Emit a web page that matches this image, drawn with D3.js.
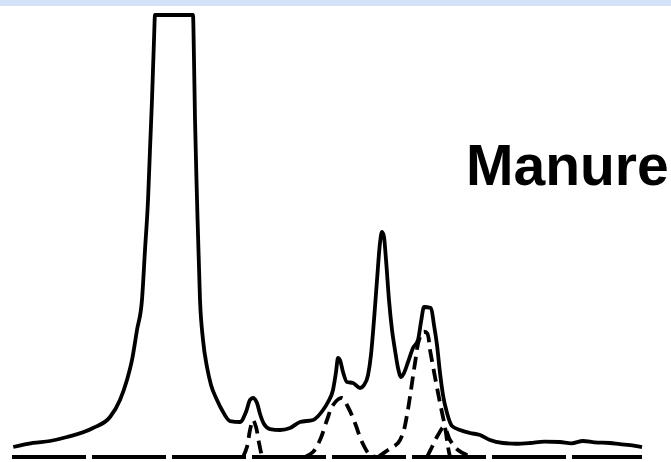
<!DOCTYPE html>
<html>
<head>
<meta charset="utf-8">
<script src="https://cdn.jsdelivr.net/npm/d3@7"></script>
<style>
  html, body { margin: 0; padding: 0; background: #fff; }
  svg { display: block; }
</style>
</head>
<body>
<div id="chart"></div>
<script>
// Spectrum (arbitrary position units 0-100, intensity units 0-100; top of main peak is clipped)
const spectrumPos = [0.2,3.33,6.03,8.73,12.86,15.56,17.14,18.25,19.05,19.84,20.63,21.11,21.59,21.90,22.22,22.54,22.70,
  28.73,28.89,29.05,29.37,29.84,30.32,30.95,31.59,32.54,33.33,34.60,36.19,37.14,37.78,38.25,38.89,39.37,40.00,40.95,42.54,44.13,
  45.71,47.78,49.37,50.16,50.95,51.43,51.75,52.06,52.54,53.17,54.13,55.24,55.87,56.51,56.98,57.46,57.94,58.41,58.73,59.05,59.37,
  59.84,60.32,60.79,61.27,61.75,62.22,62.86,63.65,64.44,64.92,65.40,66.51,66.98,67.46,67.94,68.41,69.05,69.84,71.11,72.70,74.29,
  75.87,77.94,80.0,82.22,84.5,86.98,88.8,90.63,92.5,94.92,96.5,98.10,100];
const spectrumInt = [2.26,3.17,3.62,4.52,6.56,9.05,12.90,17.42,21.95,28.73,35.52,46.83,58.14,69.46,80.77,94.34,100,
  100,89.82,76.24,58.14,35.52,26.47,20.36,16.29,12.90,10.63,8.14,7.92,10.18,12.90,13.35,12.22,9.73,7.47,6.33,6.11,6.56,
  7.92,8.37,10.63,12.44,15.16,19.23,22.40,21.95,19.23,16.97,16.74,15.61,16.29,18.55,23.08,31.00,40.05,48.42,50.90,49.77,44.57,
  35.52,28.73,24.21,20.14,18.10,19.00,21.49,24.66,26.47,30.54,33.94,33.71,29.86,25.34,19.00,14.03,9.95,7.01,6.11,5.43,4.98,
  3.85,3.17,3.0,3.17,3.5,3.39,3.1,3.62,3.3,3.17,2.9,2.71,2.26];

// Deconvolution components (dashed)
const comp1Pos = [36.67,37.30,37.78,38.25,38.73,39.21,39.68];
const comp1Int = [0,2.26,6.11,8.37,6.79,3.17,0];
const comp2Pos = [46.51,47.78,48.89,50.00,50.95,52.38,53.33,54.44,55.56,56.83,57.78];
const comp2Int = [0,1.13,3.85,8.37,11.76,13.35,11.31,7.69,3.39,0.45,0];
const comp3Pos = [58.10,59.68,61.27,62.06,62.70,63.33,63.97,64.60,65.24,65.87,66.35,67.14,67.94,68.73,69.21,69.52];
const comp3Int = [0,1.58,3.17,5.43,9.50,15.16,21.27,26.47,28.28,28.05,24.21,18.10,12.22,6.79,2.26,0];
const comp4Pos = [65.87,66.67,67.62,68.57,69.52,70.79,72.22,73.49];
const comp4Int = [0,2.26,4.98,6.79,3.85,1.58,0.45,0];

const baselinePos = [0, 100];
const baselineInt = [0, 0];

const label = "Manure";

const W = 671, H = 462;
const svg = d3.select("#chart").append("svg").attr("width", W).attr("height", H);
svg.append("rect").attr("width", W).attr("height", H).attr("fill", "#fff");
svg.append("rect").attr("x", 0).attr("y", 0).attr("width", W).attr("height", 6).attr("fill", "#d3e2f7");

const x = d3.scaleLinear().domain([0, 100]).range([12, 642]);
const y = d3.scaleLinear().domain([0, 100]).range([457, 15]);

const dashLine = d3.line().x(d => x(d[0])).y(d => y(d[1])).curve(d3.curveCatmullRom.alpha(0.5));
const specLine = d3.line().x(d => x(d[0])).y(d => y(d[1])).curve(d3.curveMonotoneX);
const zip = (a, b) => a.map((v, i) => [v, b[i]]);

// baseline
svg.append("path").datum(zip(baselinePos, baselineInt))
  .attr("d", d3.line().x(d => x(d[0])).y(d => y(d[1])))
  .attr("fill", "none").attr("stroke", "#000").attr("stroke-width", 3.8)
  .attr("stroke-dasharray", "74,6");

// components
[[comp1Pos, comp1Int], [comp2Pos, comp2Int], [comp3Pos, comp3Int], [comp4Pos, comp4Int]].forEach(([p, v]) => {
  svg.append("path").datum(zip(p, v))
    .attr("d", dashLine)
    .attr("fill", "none").attr("stroke", "#000").attr("stroke-width", 3.8)
    .attr("stroke-dasharray", "13,7");
});

// spectrum
svg.append("path").datum(zip(spectrumPos, spectrumInt))
  .attr("d", specLine)
  .attr("fill", "none").attr("stroke", "#000").attr("stroke-width", 3.8)
  .attr("stroke-linejoin", "round");

svg.append("text").attr("x", 466).attr("y", 185)
  .attr("font-family", "Liberation Sans, Arial, sans-serif")
  .attr("font-weight", "bold").attr("font-size", 57).attr("fill", "#000")
  .text(label);
</script>
</body>
</html>
